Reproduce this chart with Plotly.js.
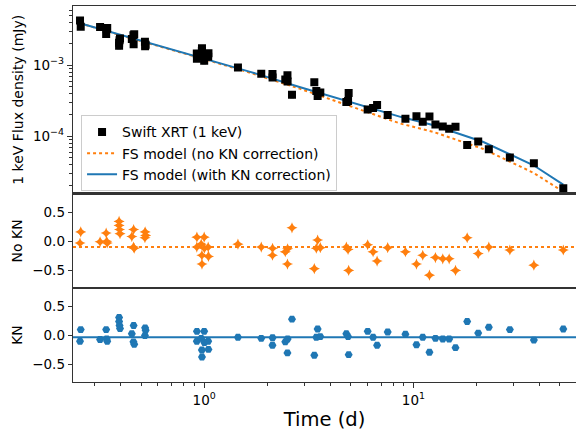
<!DOCTYPE html>
<html>
<head>
<meta charset="utf-8">
<script src="https://cdn.plot.ly/plotly-3.0.1.min.js"></script>
<style>html,body{margin:0;padding:0;background:#fff;}#chart{width:576px;height:431px;}</style>
</head>
<body>
<div id="chart"></div>
<script>
// Observed times (days)
const time = [0.257,0.255,0.318,0.340,0.342,0.344,0.392,0.392,0.394,0.396,
  0.451,0.460,0.459,0.463,0.522,0.525,0.521,0.923,1.000,0.922,
  0.968,1.002,0.975,0.976,1.048,1.045,1.450,1.874,2.122,2.120,
  2.441,2.504,2.500,2.628,3.360,3.485,3.435,3.589,4.780,4.871,
  4.903,6.044,6.415,6.704,7.534,9.157,10.34,11.08,11.93,12.74,
  13.81,14.82,15.89,18.07,20.40,22.93,28.90,37.64,52.03];
// Swift XRT 1 keV flux density (mJy)
const flux = [3.49e-3,4.27e-3,3.47e-3,2.76e-3,3.25e-3,3.35e-3,1.88e-3,2.07e-3,2.26e-3,2.38e-3,
  2.35e-3,1.98e-3,2.65e-3,2.73e-3,1.86e-3,1.94e-3,2.14e-3,1.237e-3,1.156e-3,1.463e-3,
  1.349e-3,1.393e-3,1.589e-3,1.741e-3,1.483e-3,1.315e-3,9.34e-4,7.59e-4,6.73e-4,7.57e-4,
  6.33e-4,5.91e-4,7.25e-4,3.84e-4,5.75e-4,3.70e-4,4.34e-4,4.13e-4,3.04e-4,3.14e-4,
  4.07e-4,2.38e-4,2.51e-4,2.75e-4,1.995e-4,1.77e-4,1.91e-4,1.61e-4,1.905e-4,1.466e-4,
  1.37e-4,1.28e-4,1.365e-4,7.53e-5,8.46e-5,6.59e-5,5.05e-5,4.19e-5,1.86e-5];
// Residuals
const resNoKN = [0.16,-0.03,-0.01,0.14,0.0,-0.03,0.34,0.27,0.20,0.13,
  0.08,0.20,-0.10,-0.12,0.16,0.10,0.06,0.07,0.07,-0.10,
  -0.05,-0.12,-0.24,-0.39,-0.26,-0.10,-0.05,-0.10,-0.12,-0.24,
  -0.18,-0.13,-0.39,0.23,-0.47,0.02,-0.12,-0.11,-0.10,-0.14,
  -0.50,-0.06,-0.18,-0.34,-0.11,-0.18,-0.39,-0.24,-0.58,-0.28,
  -0.30,-0.30,-0.50,0.06,-0.21,-0.10,-0.15,-0.41,-0.15];
const resKN = [0.10,-0.10,-0.07,0.10,-0.06,-0.10,0.31,0.24,0.17,0.12,
  0.03,0.17,-0.11,-0.15,0.13,0.09,0.0,0.07,0.07,-0.10,
  -0.05,-0.12,-0.25,-0.37,-0.24,-0.10,-0.03,-0.05,-0.04,-0.17,
  -0.11,-0.06,-0.30,0.28,-0.34,0.11,-0.03,-0.02,0.03,-0.02,
  -0.33,0.07,-0.03,-0.17,0.06,0.02,-0.16,-0.03,-0.29,-0.05,
  -0.06,-0.06,-0.21,0.24,0.04,0.14,0.10,-0.08,0.11];
// Model curves
const tModel = [0.255,0.396,1.0,1.66,2.88,5.0,8.67,12.5,21.6,37.5,52.0];
const fModelNoKN = [3.91e-3,2.66e-3,1.22e-3,7.84e-4,4.66e-4,2.65e-4,1.51e-4,1.15e-4,6.63e-5,3.06e-5,1.66e-5];
const fModelKN = [3.91e-3,2.70e-3,1.24e-3,8.07e-4,4.92e-4,3.01e-4,1.88e-4,1.43e-4,8.32e-5,3.91e-5,2.09e-5];
// Mean residual levels
const meanResNoKN = -0.1;
const meanResKN = -0.03;
// Tick labels
const xTickVals = [1, 10];
const xTickText = ['10<sup>0</sup>', '10<sup>1</sup>'];
const xMinor = [0.3,0.4,0.5,0.6,0.7,0.8,0.9,2,3,4,5,6,7,8,9,20,30,40,50];
const yTickVals = [1e-4, 1e-3];
const yTickText = ['10<sup>−4</sup>', '10<sup>−3</sup>'];
const yMinor = [2e-5,3e-5,4e-5,5e-5,6e-5,7e-5,8e-5,9e-5,2e-4,3e-4,4e-4,5e-4,6e-4,7e-4,8e-4,9e-4,2e-3,3e-3,4e-3,5e-3,6e-3];
const resTickVals = [-0.5, 0, 0.5];
const resTickText = ['−0.5', '0.0', '0.5'];

const ORANGE = '#ff7f0e', BLUE = '#1f77b4', AX = '#333333';
const FONT = 'DejaVu Sans, sans-serif';

const traces = [
  {x: tModel, y: fModelNoKN, xaxis:'x', yaxis:'y', mode:'lines', name:'FS model (no KN correction)',
   line:{color:ORANGE, width:2, dash:'dot'}, legendrank:2},
  {x: tModel, y: fModelKN, xaxis:'x', yaxis:'y', mode:'lines', name:'FS model (with KN correction)',
   line:{color:BLUE, width:2}, legendrank:3},
  {x: time, y: flux, xaxis:'x', yaxis:'y', mode:'markers', name:'Swift XRT (1 keV)',
   marker:{symbol:'square', size:8, color:'black'},
   error_y:{type:'percent', value:8, color:'black', thickness:1.5, width:2}, legendrank:1},
  {x: time, y: resNoKN, xaxis:'x2', yaxis:'y2', mode:'markers', showlegend:false,
   marker:{symbol:'star-diamond', size:8, color:ORANGE}},
  {x: time, y: resKN, xaxis:'x3', yaxis:'y3', mode:'markers', showlegend:false,
   marker:{symbol:'hexagon2', size:8, color:BLUE}}
];

const xRange = [-0.627, 1.777];
const xCommon = {type:'log', range:xRange, showgrid:false, zeroline:false, showline:true, mirror:true,
  linecolor:AX, linewidth:1.3};
const yRes = {range:[-0.8, 0.815], showgrid:false, zeroline:false, showline:true, mirror:true,
  linecolor:AX, linewidth:1.3, ticks:'outside', ticklen:4, tickwidth:1, tickcolor:AX,
  tickmode:'array', tickvals:resTickVals, ticktext:resTickText,
  tickfont:{family:FONT, size:13.5, color:'black'}};

const layout = {
  width:576, height:431,
  margin:{l:73, r:0, t:6, b:49},
  paper_bgcolor:'white', plot_bgcolor:'white',
  font:{family:FONT, color:'black'},
  showlegend:true,
  legend:{x:0.016, y:0.507, xanchor:'left', yanchor:'bottom',
    bgcolor:'rgba(255,255,255,0.85)', bordercolor:'#cccccc', borderwidth:1,
    font:{family:FONT, size:14, color:'black'}, tracegroupgap:0},
  xaxis: Object.assign({}, xCommon, {anchor:'y', matches:'x3', showticklabels:false, ticks:''}),
  xaxis2: Object.assign({}, xCommon, {anchor:'y2', matches:'x3', showticklabels:false, ticks:''}),
  xaxis3: Object.assign({}, xCommon, {anchor:'y3', ticks:'outside', ticklen:5, tickwidth:1, tickcolor:AX,
    tickmode:'array', tickvals:xTickVals, ticktext:xTickText,
    tickfont:{family:FONT, size:13.5, color:'black'},
    minor:{tickmode:'array', tickvals:xMinor, ticks:'outside', ticklen:3, tickwidth:1, tickcolor:AX},
    title:{text:'Time (d)', font:{family:FONT, size:19.5, color:'black'}, standoff:12}}),
  yaxis: {type:'log', domain:[0.501, 1], range:[-4.807, -2.165], anchor:'x',
    showgrid:false, zeroline:false, showline:true, mirror:true, linecolor:AX, linewidth:1.3,
    ticks:'outside', ticklen:5, tickwidth:1, tickcolor:AX,
    tickmode:'array', tickvals:yTickVals, ticktext:yTickText,
    tickfont:{family:FONT, size:13.5, color:'black'},
    minor:{tickmode:'array', tickvals:yMinor, ticks:'outside', ticklen:3, tickwidth:1, tickcolor:AX},
    title:{text:'1 keV Flux density (mJy)', font:{family:FONT, size:14, color:'black'}, standoff:6}},
  yaxis2: Object.assign({}, yRes, {domain:[0.25, 0.501], anchor:'x2',
    title:{text:'No KN', font:{family:FONT, size:14, color:'black'}, standoff:6}}),
  yaxis3: Object.assign({}, yRes, {domain:[0, 0.25], anchor:'x3',
    title:{text:'KN', font:{family:FONT, size:14, color:'black'}, standoff:6}}),
  shapes:[
    {type:'line', xref:'x2 domain', yref:'y2', x0:0, x1:1, y0:meanResNoKN, y1:meanResNoKN,
     line:{color:ORANGE, width:2, dash:'dot'}, layer:'below'},
    {type:'line', xref:'x3 domain', yref:'y3', x0:0, x1:1, y0:meanResKN, y1:meanResKN,
     line:{color:BLUE, width:2}, layer:'below'}
  ]
};

Plotly.newPlot('chart', traces, layout, {displayModeBar:false, staticPlot:true});
</script>
</body>
</html>
